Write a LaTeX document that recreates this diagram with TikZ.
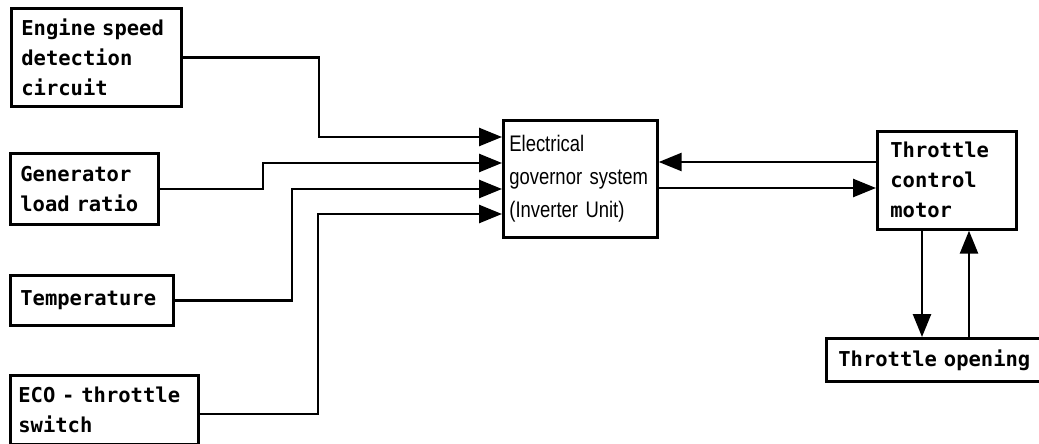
\documentclass[tikz,border=0pt]{standalone}
\usepackage{fontspec}
\setmonofont{DejaVu Sans Mono}
\newfontfamily\narrowfont{Liberation Sans}[FakeStretch=0.82]
\usepackage{tikz}
\usetikzlibrary{arrows.meta}

\tikzset{
  unitbox/.style={draw, line width=2.7pt, rectangle, anchor=north west,
    inner xsep=10pt, inner ysep=0pt, align=left,
    font=\ttfamily\bfseries\fontsize{20.5}{30}\selectfont},
  flow/.style={line width=2.6pt, -{Triangle[length=23pt,width=18pt]}},
}

\begin{document}
\begin{tikzpicture}[x=1pt, y=-1pt]
		\useasboundingbox (0,0) rectangle (1039,444);
		
		% 左侧输入信号
		\node[unitbox, text width=150pt, minimum height=98pt] (eng) at (10,7)
			{Engine speed\\detection\\circuit};
		\node[unitbox, text width=128pt, minimum height=71pt] (gen) at (9,152)
			{Generator\\load ratio};
		\node[unitbox, text width=143pt, minimum height=50pt] (temp) at (9,274)
			{Temperature};
		\node[unitbox, inner xsep=8pt, text width=172pt, minimum height=69pt] (eco) at (9,374)
			{ECO - throttle\\switch};
		
		% 中间控制单元
		\node[unitbox, inner xsep=6pt, text width=142pt, minimum height=117pt,
			font=\narrowfont\fontsize{22.5}{33}\selectfont] (elec) at (502,119)
			{Electrical\\governor system\\(Inverter Unit)};
		
		% 右侧执行部分
		\node[unitbox, inner xsep=13pt, text width=113pt, minimum height=98pt] (motor) at (876,130)
			{Throttle\\control\\motor};
		\node[unitbox, inner xsep=12pt, text width=236pt, minimum width=260pt, minimum height=43pt] (topen) at (825,337)
			{Throttle opening};
		
		% 输入连线
		\draw[flow] (eng.east) -| (319,137) -- (elec.west |- 0,137);
		\draw[flow] (gen.east) -| (263,163) -- (elec.west |- 0,163);
		\draw[flow] (temp.east) -| (292,189) -- (elec.west |- 0,189);
		\draw[flow] (eco.east |- 0,414) -| (318,214) -- (elec.west |- 0,214);
		
		% 控制单元与电机
		\draw[flow] (motor.west |- 0,162) -- (elec.east |- 0,162);
		\draw[flow] (elec.east |- 0,188) -- (motor.west |- 0,188);
		
		% 电机与节气门开度
		\draw[flow] (motor.south -| 922,0) -- (topen.north -| 922,0);
		\draw[flow] (topen.north -| 969,0) -- (motor.south -| 969,0);
	\end{tikzpicture}
\end{document}
